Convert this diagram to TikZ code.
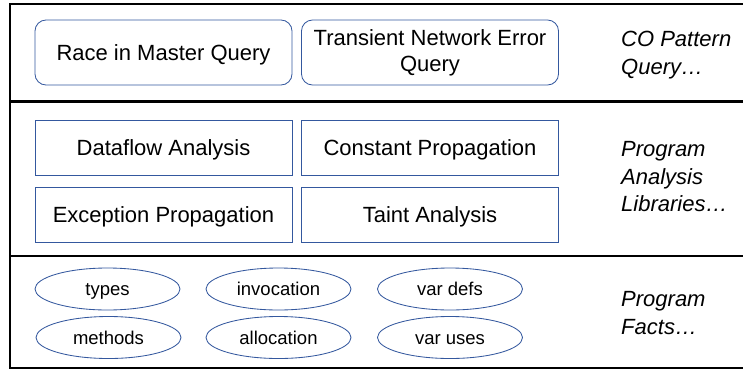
\documentclass[tikz,border=0pt]{standalone}
\usepackage{fontspec}
\setmainfont{Liberation Sans}
\usetikzlibrary{shapes.geometric}
\definecolor{edgeblue}{RGB}{52,88,158}
\tikzset{
  frameline/.style={line width=2.6pt, black},
  querybox/.style={draw=edgeblue, line width=0.85pt, rounded corners=11pt,
    minimum width=257pt, minimum height=65pt, inner sep=0pt, align=center,
    font=\fontsize{22}{26}\selectfont},
  libbox/.style={draw=edgeblue, line width=0.85pt,
    minimum width=257pt, minimum height=55pt, inner sep=0pt, align=center,
    text height=15.75pt, text depth=0pt,
    font=\fontsize{22}{26}\selectfont},
  fact/.style={ellipse, draw=edgeblue, line width=0.85pt,
    minimum width=145pt, minimum height=42pt, inner sep=0pt,
    text height=13.25pt, text depth=0pt,
    font=\fontsize{18.5}{21}\selectfont},
  layerlabel/.style={anchor=west, align=left, inner sep=0pt,
    font=\fontsize{22}{27.5}\selectfont\itshape}
}
\begin{document}
\begin{tikzpicture}[x=1pt, y=-1pt]
\useasboundingbox (0,0) rectangle (743,370);

% layer frame and separators
\coordinate (tl) at (10,4);
\coordinate (tr) at (743,4);
\coordinate (bl) at (10,368);
\coordinate (br) at (743,368);
\coordinate (s1l) at (10,101.5);
\coordinate (s1r) at (743,101.5);
\coordinate (s2l) at (10,256);
\coordinate (s2r) at (743,256);
\draw[frameline] (tr) -- (tl) -- (bl) -- (br);
\draw[frameline] (s1l) -- (s1r);
\draw[frameline] (s2l) -- (s2r);

% pattern queries
\node[querybox, text height=15.75pt, text depth=0pt] (race) at (163.5,52.5) {Race in Master Query};
\node[querybox] (transient) at (430,52.5) {Transient Network Error\\Query};

% analysis libraries
\node[libbox] (dataflow) at (163.5,147.5) {Dataflow Analysis};
\node[libbox] (constprop) at (430,147.5) {Constant Propagation};
\node[libbox] (exception) at (163.5,214.5) {Exception Propagation};
\node[libbox] (taint) at (430,214.5) {Taint Analysis};

% program facts
\node[fact] (types) at (107.5,289) {types};
\node[fact] (invocation) at (278.5,289) {invocation};
\node[fact] (vardefs) at (450,289) {var defs};
\node[fact] (methods) at (108.5,337.5) {methods};
\node[fact] (allocation) at (278.5,337.5) {allocation};
\node[fact] (varuses) at (450,337.5) {var uses};

% layer names
\node[layerlabel] (lqueries) at (621,55) {CO Pattern\\Query…};
\node[layerlabel] (llibs) at (621,177) {Program\\Analysis\\Libraries…};
\node[layerlabel] (lfacts) at (621,313) {Program\\Facts…};
\end{tikzpicture}
\end{document}
